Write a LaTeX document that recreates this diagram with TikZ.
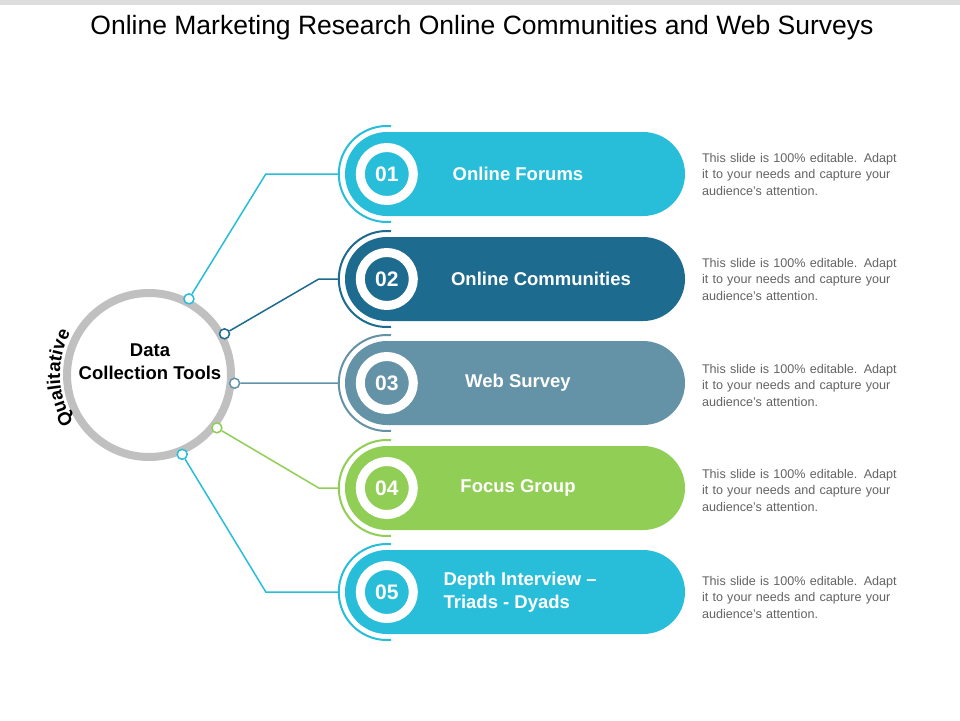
\documentclass[tikz,border=0pt]{standalone}
\usepackage{fontspec}
\setmainfont{Liberation Sans}
\usetikzlibrary{positioning,decorations.text}

\definecolor{rowcyan}{RGB}{40,190,217}
\definecolor{rownavy}{RGB}{29,107,143}
\definecolor{rowslate}{RGB}{100,146,166}
\definecolor{rowgreen}{RGB}{145,206,85}
\definecolor{ringgray}{RGB}{192,192,192}
\definecolor{bargray}{RGB}{221,221,221}
\definecolor{blurbgray}{RGB}{100,100,100}

\newcommand{\blurbtext}{\makebox[198pt][s]{This slide is 100\% editable. Adapt}\\
  \makebox[198pt][s]{it to your needs and capture your}\\
  audience's attention.}

\begin{document}
\begin{tikzpicture}[
  x=1pt,y=1pt,
  hub/.style={circle,draw=ringgray,line width=8pt,fill=white,minimum size=164pt,inner sep=0pt},
  dot/.style={circle,draw=#1,line width=1.5pt,fill=white,minimum size=10pt,inner sep=0pt},
  wire/.style={draw=#1,line width=1.5pt},
  pill/.style={fill=#1,rounded corners=42pt,minimum width=340pt,minimum height=84pt,inner sep=0pt},
  badge/.style={circle,fill=#1,draw=white,line width=9pt,minimum size=53pt,inner sep=0pt,
    text=white,font=\bfseries\fontsize{21}{24}\selectfont},
  halo/.style={draw=#1,line width=2pt},
  pilltext/.style={text=white,font=\bfseries\fontsize{18.5}{23}\selectfont,align=left},
  blurb/.style={text=blurbgray,font=\fontsize{12.6}{16.5}\selectfont,text width=198pt,align=left,inner sep=0pt}
]
  \useasboundingbox (0,0) rectangle (960,-720);
  \fill[white] (0,0) rectangle (960,-720);
  \fill[bargray] (0,0) rectangle (960,-5);

  \node (title) at (482,-28) {\fontsize{26.5}{30}\selectfont Online Marketing Research Online Communities and Web Surveys};

  % hub circle
  \node[hub] (hub) at (149,-375) {};
  \node[font=\bfseries\fontsize{18.5}{23}\selectfont,align=center] (hubtext) at (150,-362) {Data\\Collection Tools};
  \path[decorate,decoration={text along path,text align=center,
      text={|\bfseries\fontsize{18.5}{20}\selectfont|Qualitative}}]
    ([shift={(215:89)}]hub.center) arc[start angle=215,end angle=149,radius=89];

  \node[dot=rowcyan] (d1) at ([shift={(62.3:86)}]hub.center) {};
  \node[dot=rownavy] (d2) at ([shift={(28.6:86)}]hub.center) {};
  \node[dot=rowslate] (d3) at ([shift={(-5.5:86)}]hub.center) {};
  \node[dot=rowgreen] (d4) at ([shift={(-37.9:86)}]hub.center) {};
  \node[dot=rowcyan] (d5) at ([shift={(-67.3:86)}]hub.center) {};

  % pills
  \node[pill=rowcyan] (p1) at (515,-174) {};
  \node[pill=rownavy] (p2) at (515,-279) {};
  \node[pill=rowslate] (p3) at (515,-383) {};
  \node[pill=rowgreen] (p4) at (515,-488) {};
  \node[pill=rowcyan] (p5) at (515,-592) {};

  \node[badge=rowcyan] (b1) at ([xshift=42pt]p1.west) {01};
  \node[badge=rownavy] (b2) at ([xshift=42pt]p2.west) {02};
  \node[badge=rowslate] (b3) at ([xshift=42pt]p3.west) {03};
  \node[badge=rowgreen] (b4) at ([xshift=42pt]p4.west) {04};
  \node[badge=rowcyan] (b5) at ([xshift=42pt]p5.west) {05};

  \draw[halo=rowcyan] ([shift={(85:48)}]b1.center) arc[start angle=85,end angle=275,radius=48];
  \draw[halo=rownavy] ([shift={(85:48)}]b2.center) arc[start angle=85,end angle=275,radius=48];
  \draw[halo=rowslate] ([shift={(85:48)}]b3.center) arc[start angle=85,end angle=275,radius=48];
  \draw[halo=rowgreen] ([shift={(85:48)}]b4.center) arc[start angle=85,end angle=275,radius=48];
  \draw[halo=rowcyan] ([shift={(85:48)}]b5.center) arc[start angle=85,end angle=275,radius=48];

  \coordinate (a1) at ([xshift=-48pt]b1.center);
  \coordinate (a2) at ([xshift=-48pt]b2.center);
  \coordinate (a3) at ([xshift=-48pt]b3.center);
  \coordinate (a4) at ([xshift=-48pt]b4.center);
  \coordinate (a5) at ([xshift=-48pt]b5.center);

  \node[pilltext] (t1) at (518,-174) {Online Forums};
  \node[pilltext] (t2) at (541,-279) {Online Communities};
  \node[pilltext] (t3) at (518,-383) {Web Survey};
  \node[pilltext] (t4) at (518,-488) {Focus Group};
  \node[pilltext,anchor=west] (t5) at (440,-592) {Depth Interview --\\Triads - Dyads};

  \node[blurb] (n1) at (801,-174) {\blurbtext};
  \node[blurb] (n2) at (801,-279) {\blurbtext};
  \node[blurb] (n3) at (801,-385) {\blurbtext};
  \node[blurb] (n4) at (801,-490) {\blurbtext};
  \node[blurb] (n5) at (801,-597) {\blurbtext};

  % connectors
  \draw[wire=rowcyan] (d1) -- ([xshift=-73pt]a1) -- (a1);
  \draw[wire=rownavy] (d2) -- ([xshift=-20pt]a2) -- (a2);
  \draw[wire=rowslate] (d3) -- (a3);
  \draw[wire=rowgreen] (d4) -- ([xshift=-20pt]a4) -- (a4);
  \draw[wire=rowcyan] (d5) -- ([xshift=-73pt]a5) -- (a5);
\end{tikzpicture}
\end{document}
